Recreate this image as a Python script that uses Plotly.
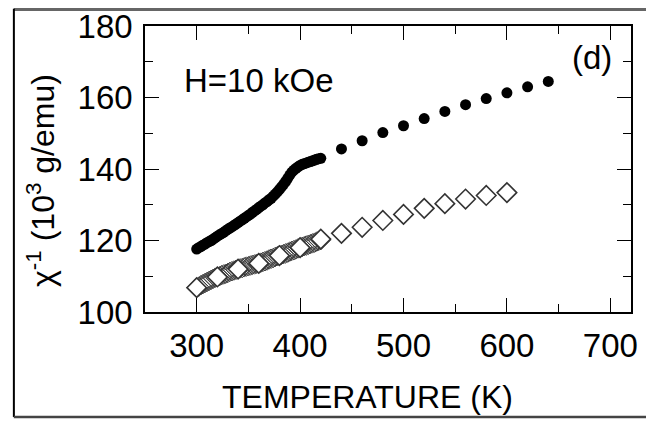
import plotly.graph_objects as go

# Inverse susceptibility vs temperature, H = 10 kOe
# Filled circles: heating run (dense 300-420 K, then every 20 K)
temp_fill_dense = [300, 302, 304, 306, 308, 310, 312, 314, 316, 318, 320, 322, 324, 326, 328,
                   330, 332, 334, 336, 338, 340, 342, 344, 346, 348, 350, 352, 354, 356, 358,
                   360, 362, 364, 366, 368, 370, 372, 374, 376, 378, 380, 382, 384, 386, 388,
                   390, 392, 394, 396, 398, 400, 402, 404, 406, 408, 410, 412, 414, 416, 418, 420]
chi_inv_fill_dense = [117.6, 118.0, 118.3, 118.7, 119.0, 119.4, 119.7, 120.0, 120.4, 120.8,
                      121.2, 121.6, 121.9, 122.3, 122.7, 123.1, 123.5, 123.8, 124.2, 124.6,
                      125.0, 125.4, 125.8, 126.2, 126.6, 127.0, 127.4, 127.9, 128.3, 128.7,
                      129.2, 129.6, 130.0, 130.5, 130.9, 131.4, 131.8, 132.4, 133.0, 133.6,
                      134.3, 135.0, 135.7, 136.5, 137.4, 138.3, 139.1, 139.7, 140.2, 140.6,
                      141.0, 141.3, 141.5, 141.7, 141.9, 142.1, 142.3, 142.5, 142.7, 142.9, 143.0]
temp_fill_sparse = [440, 460, 480, 500, 520, 540, 560, 580, 600, 620, 640]
chi_inv_fill_sparse = [145.6, 147.9, 150.2, 152.1, 154.1, 156.1, 158.0, 159.7, 161.3, 163.0, 164.5]

# Open diamonds: second run (dense hollow points, white-filled every 20 K)
temp_open_dense = temp_fill_dense
chi_inv_open_dense = [106.8, 107.1, 107.5, 107.8, 108.1, 108.4, 108.7, 109.0, 109.3, 109.6,
                      109.8, 110.0, 110.3, 110.5, 110.7, 110.9, 111.2, 111.4, 111.6, 111.8,
                      112.0, 112.2, 112.3, 112.5, 112.7, 112.8, 113.0, 113.2, 113.3, 113.5,
                      113.6, 113.8, 114.0, 114.2, 114.4, 114.7, 114.9, 115.1, 115.4, 115.6,
                      115.8, 116.0, 116.2, 116.4, 116.6, 116.9, 117.1, 117.3, 117.5, 117.8,
                      118.0, 118.2, 118.4, 118.6, 118.8, 119.0, 119.2, 119.4, 119.7, 119.9, 120.1]
temp_open_sparse = [300, 320, 340, 360, 380, 400, 420, 440, 460, 480, 500, 520, 540, 560, 580, 600]
chi_inv_open_sparse = [106.8, 109.8, 112.0, 113.6, 115.8, 118.0, 120.4, 122.0, 123.7, 125.6,
                       127.3, 129.0, 130.3, 131.6, 132.6, 133.4]

x_ticks = [300, 400, 500, 600, 700]
y_ticks = [100, 120, 140, 160, 180]

FONT = "Liberation Sans, Arial, sans-serif"

fig = go.Figure()
fig.add_trace(go.Scatter(
    x=temp_open_dense, y=chi_inv_open_dense, mode="markers",
    marker=dict(symbol="diamond-open", size=15, color="#3a3a3a", line=dict(width=1)),
    hoverinfo="skip"))
fig.add_trace(go.Scatter(
    x=temp_open_sparse, y=chi_inv_open_sparse, mode="markers",
    marker=dict(symbol="diamond", size=15, color="white",
                line=dict(width=1.6, color="#333333"))))
fig.add_trace(go.Scatter(
    x=temp_fill_dense, y=chi_inv_fill_dense, mode="markers",
    marker=dict(symbol="circle", size=11, color="black", line=dict(width=0))))
fig.add_trace(go.Scatter(
    x=temp_fill_sparse, y=chi_inv_fill_sparse, mode="markers",
    marker=dict(symbol="circle", size=11, color="black", line=dict(width=0))))

axis_common = dict(
    showline=True, linecolor="black", linewidth=1.6, mirror="allticks",
    ticks="inside", ticklen=14, tickwidth=1.4, tickcolor="black",
    showgrid=False, zeroline=False, ticklabeloverflow="allow",
    tickfont=dict(family=FONT, size=33, color="black"),
)

fig.update_xaxes(
    range=[250, 720], tickvals=x_ticks, ticktext=[str(v) for v in x_ticks],
    minor=dict(dtick=50, tick0=250, ticks="inside", ticklen=8, tickwidth=1.4, tickcolor="black"),
    ticklabelstandoff=4,
    **axis_common)
fig.update_yaxes(
    range=[100, 180], tickvals=y_ticks, ticktext=[str(v) for v in y_ticks],
    minor=dict(dtick=10, tick0=100, ticks="inside", ticklen=8, tickwidth=1.4, tickcolor="black"),
    ticklabelstandoff=4,
    **axis_common)

# axis titles
fig.add_annotation(x=(371 - 145) / 493, y=-0.228, xref="paper", yref="paper",
                   xanchor="center", yanchor="top", text="TEMPERATURE (K)", showarrow=False,
                   font=dict(family=FONT, size=32, color="black"))
fig.add_annotation(x=(40 - 145) / 493, y=0.46, xref="paper", yref="paper",
                   xanchor="center", yanchor="middle", textangle=-90,
                   text="\u03c7<sup>-1</sup> (10<sup>3</sup> g/emu)", showarrow=False,
                   font=dict(family=FONT, size=32, color="black"))

fig.add_annotation(x=0.077, y=0.81, xref="paper", yref="paper", xanchor="left", yanchor="middle",
                   text="H=10 kOe", showarrow=False, font=dict(family=FONT, size=33, color="black"))
fig.add_annotation(x=0.92, y=0.89, xref="paper", yref="paper", xanchor="center", yanchor="middle",
                   text="(d)", showarrow=False, font=dict(family=FONT, size=33, color="black"))

# outer panel frame
fig.add_shape(type="line", xref="paper", yref="paper", x0=-0.27, x1=1.1, y0=1.058, y1=1.058,
              line=dict(color="#666666", width=3))
fig.add_shape(type="line", xref="paper", yref="paper", x0=-0.2698, x1=-0.2698, y0=1.06, y1=-0.367,
              line=dict(color="black", width=2))
fig.add_shape(type="line", xref="paper", yref="paper", x0=-0.27, x1=1.1, y0=-0.367, y1=-0.367,
              line=dict(color="#444444", width=2.5))

fig.update_layout(
    width=646, height=425, showlegend=False,
    margin=dict(l=145, r=8, t=18, b=113),
    paper_bgcolor="white", plot_bgcolor="white",
    font=dict(family=FONT, color="black"),
)
fig.write_html("out.html")
